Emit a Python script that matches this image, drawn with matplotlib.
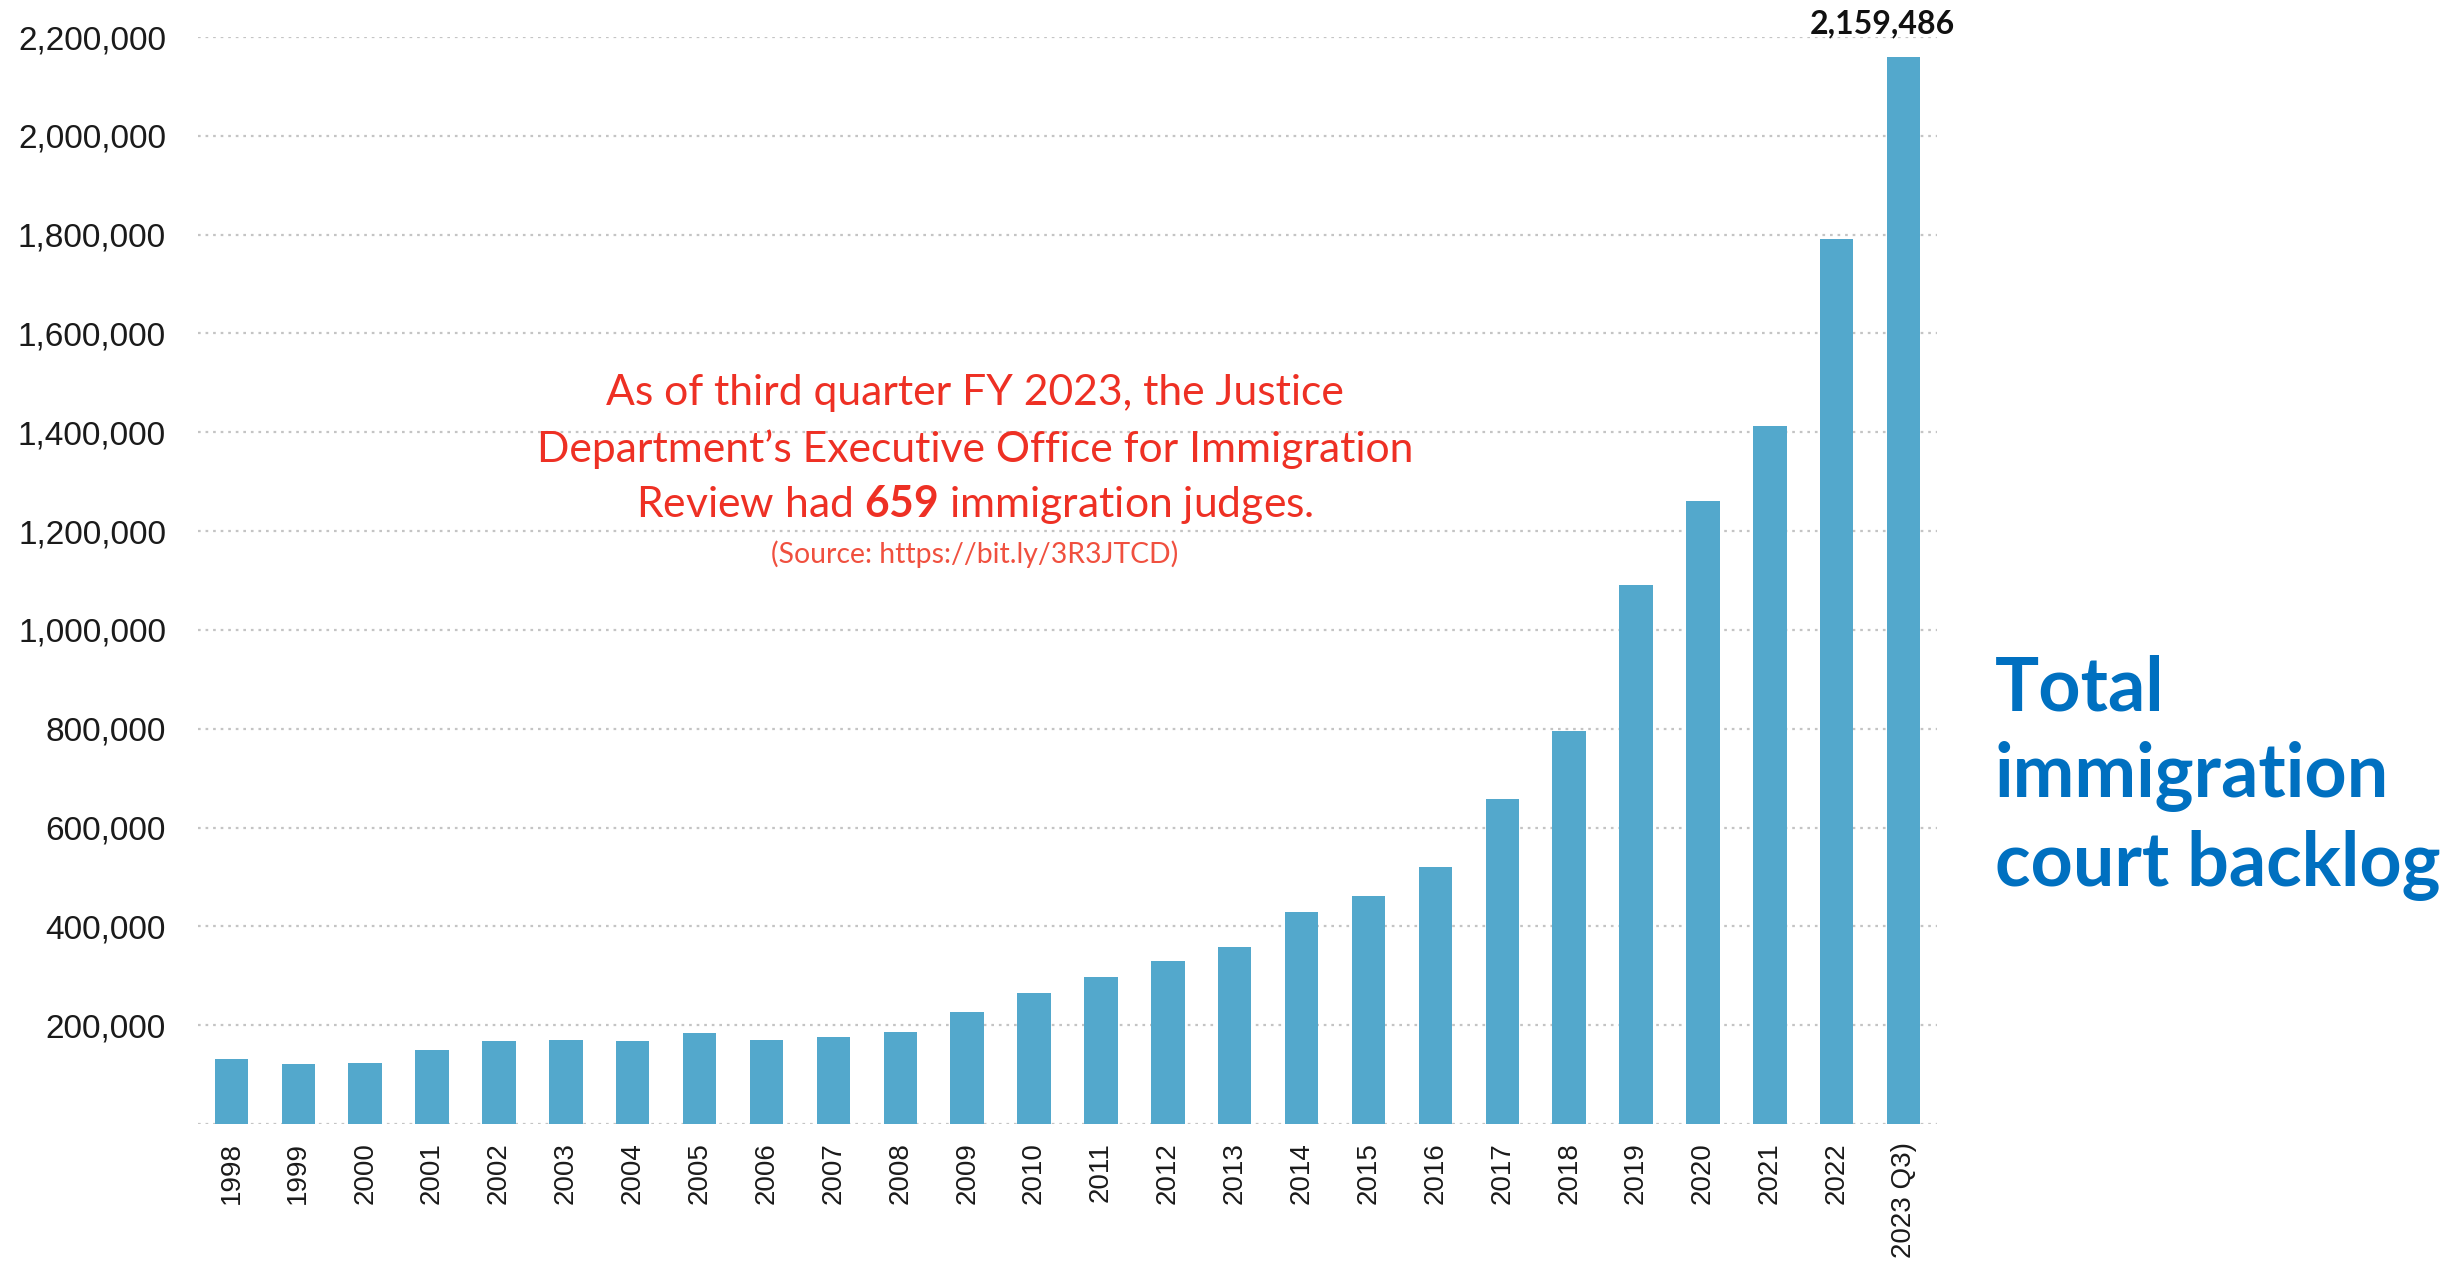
import matplotlib
matplotlib.use("Agg")
from matplotlib import pyplot as plt
from matplotlib.ticker import FuncFormatter
import numpy

years = ["1998", "1999", "2000", "2001", "2002", "2003", "2004", "2005", "2006",
         "2007", "2008", "2009", "2010", "2011", "2012", "2013", "2014", "2015",
         "2016", "2017", "2018", "2019", "2020", "2021", "2022", "2023 Q3)"]
backlog = [131000, 121000, 124000, 150000, 167000, 170000, 168000, 185000, 171000,
           176000, 187000, 226000, 265000, 297000, 329000, 358000, 430000, 461000,
           521000, 657000, 796000, 1090000, 1261000, 1412000, 1792000, 2159486]
yticks = list(range(0, 2200001, 200000))

note_lines = ["As of third quarter FY 2023, the Justice",
              "Department\u2019s Executive Office for Immigration",
              "Review had $\\mathbf{659}$ immigration judges."]
note_source = "(Source: https://bit.ly/3R3JTCD)"
side_title = "Total\nimmigration\ncourt backlog"

plt.rcParams['mathtext.fontset'] = 'custom'
plt.rcParams['mathtext.rm'] = 'Lato'
plt.rcParams['mathtext.bf'] = 'Lato:bold'

W, H = 2453, 1262
fig = plt.figure(figsize=(W / 100, H / 100), dpi=100)
ax = fig.add_axes([198 / W, 1 - 1124 / H, (1937 - 198) / W, (1124 - 37) / H])

x = numpy.arange(len(years))
bars = ax.bar(x, backlog, width=0.5, color="#53a8cc", zorder=2)

ax.set_xlim(-0.5, len(years) - 0.5)
ax.set_ylim(0, 2200000)
ax.set_yticks(yticks)
ax.yaxis.set_major_formatter(FuncFormatter(lambda v, p: "" if v == 0 else f"{int(v):,}"))
ax.set_xticks(x)
ax.set_xticklabels(years, rotation=90, fontsize=20, family="Liberation Sans", color="#1a1a1a")
for lab in ax.get_yticklabels():
    lab.set_fontsize(24)
    lab.set_family("Liberation Sans")
    lab.set_color("#1a1a1a")
ax.tick_params(axis="both", length=0)
ax.tick_params(axis="y", pad=23)
ax.tick_params(axis="x", pad=13)
ax.yaxis.grid(True, linestyle=(0, (1.2, 2.2)), color="#c4c4c4", linewidth=1.6)
ax.set_axisbelow(True)
for s in ax.spines.values():
    s.set_visible(False)

# label on the last bar
ax.annotate(f"{backlog[-1]:,}", xy=(x[-1], backlog[-1]), xytext=(-15, 17),
            textcoords="offset points", ha="center", va="baseline",
            fontsize=23, fontweight="bold", family="Lato", color="#111111",
            annotation_clip=False)

# red note
baselines = [405, 462, 517]
for line, yb in zip(note_lines, baselines):
    fig.text(975 / W, 1 - yb / H, line, ha="center", va="baseline",
             fontsize=30.7, family="Lato", color="#ee3024")
fig.text(975 / W, 1 - 563 / H, note_source, ha="center", va="baseline",
         fontsize=20.4, family="Lato", color="#f0503f")

# blue side title (baseline anchors the last line)
fig.text(1995 / W, 1 - 886 / H, side_title, ha="left", va="baseline",
         fontsize=53, fontweight="bold", family="Lato", color="#0070c0",
         linespacing=1.32)

fig.savefig("out.png", dpi=100, facecolor="white")
